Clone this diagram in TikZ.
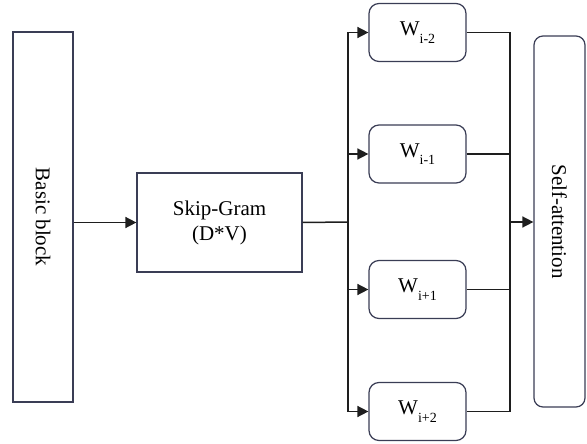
\documentclass[tikz,border=0pt]{standalone}
\usepackage{fontspec}
\setmainfont{Liberation Serif}
\usetikzlibrary{arrows.meta}
\definecolor{boxc}{HTML}{3A3D55}
\definecolor{linec}{HTML}{1E1E1E}
\newcommand{\wsub}[1]{\raisebox{-0.35em}{\fontsize{14}{15}\selectfont #1}}
\begin{document}
\begin{tikzpicture}[x=1pt,y=-1pt,
  box/.style={draw=boxc, line width=1.2pt, fill=white, inner sep=0pt},
  wbox/.style={box, rounded corners=10pt, minimum width=97pt, minimum height=58pt},
  conn/.style={draw=linec, line width=1.5pt},
  arr/.style={conn, -{Triangle[length=11pt,width=11pt]}},
  lbl/.style={font=\fontsize{21}{25}\selectfont, text=black},
  wlbl/.style={font=\fontsize{21}{25}\selectfont, text=black}]
\useasboundingbox (0,0) rectangle (587,444);
% boxes
\node[box, minimum width=60pt, minimum height=370pt] (basic) at (43,217) {};
\node[lbl, rotate=-90] (basiclbl) at (basic.center) {Basic block};
\node[box, minimum width=165pt, minimum height=99pt, lbl, align=center] (skip) at (219.5,222.5) {Skip-Gram\\(D*V)};
\node[wbox, wlbl] (w1) at (417.5,32.5) {W\wsub{i-2}};
\node[wbox, wlbl] (w2) at (417.5,154) {W\wsub{i-1}};
\node[wbox, wlbl] (w3) at (417.5,289.5) {W\wsub{i+1}};
\node[wbox, wlbl] (w4) at (417.5,411.5) {W\wsub{i+2}};
\node[box, rounded corners=9pt, minimum width=51pt, minimum height=371pt] (self) at (559.5,221.5) {};
\node[lbl, rotate=-90] (selflbl) at (self.center) {Self-attention};
% bus coordinates
\coordinate (busL) at (348,222);
\coordinate (busR) at (510,222);
% connectors
\draw[arr] (basic.east |- skip.west) -- (skip.west);
\draw[conn] (skip.east) -- (busL);
\draw[conn] (w1.west -| busL) -- (w4.west -| busL);
\draw[arr] (w1.west -| busL) -- (w1.west);
\draw[arr] (w2.west -| busL) -- (w2.west);
\draw[arr] (w3.west -| busL) -- (w3.west);
\draw[arr] (w4.west -| busL) -- (w4.west);
\draw[conn] (w1.east) -- (w1.east -| busR) -- (w4.east -| busR) -- (w4.east);
\draw[conn] (w2.east) -- (w2.east -| busR);
\draw[conn] (w3.east) -- (w3.east -| busR);
\draw[arr] (busR) -- (self.west |- busR);
\end{tikzpicture}
\end{document}
